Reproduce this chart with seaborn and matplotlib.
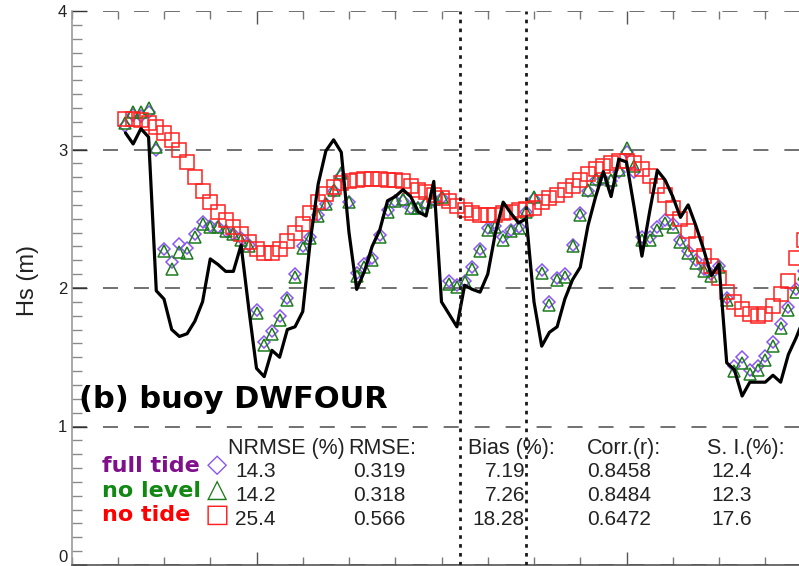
import numpy as np
import pandas as pd
import matplotlib
matplotlib.use("Agg")
import matplotlib.pyplot as plt
from matplotlib.ticker import MultipleLocator, FixedLocator
import seaborn as sns

# ---- data: hourly significant wave height at buoy DWFOUR ----
hours = list(range(7, 96))

observed = [
    3.12, 3.04, 3.15, 3.09, 1.98, 1.92, 1.70, 1.65, 1.67, 1.76,
    1.90, 2.21, 2.17, 2.12, 2.12,
    2.31, 1.85, 1.42, 1.36, 1.55,
    1.50, 1.70, 1.72, 1.83, 2.35,
    2.75, 2.99, 3.07, 2.98, 2.40,
    1.99, 2.12, 2.30, 2.42, 2.63,
    2.66, 2.71, 2.66, 2.55, 2.52,
    2.77, 1.90, 1.81, 1.72, 2.02,
    1.99, 1.97, 2.10, 2.40, 2.62,
    2.54, 2.47, 2.50, 1.90, 1.58,
    1.68, 1.72, 1.92, 2.06, 2.15,
    2.45, 2.66, 2.84, 2.66, 2.93,
    2.91, 2.58, 2.23, 2.55, 2.85,
    2.78, 2.66, 2.51, 2.60, 2.45,
    2.28, 2.09, 2.17, 1.46, 1.41,
    1.22, 1.32, 1.32, 1.32, 1.37,
    1.32, 1.52, 1.64, 1.78,
]

full_tide = [
    3.17, 3.25, 3.24, 3.27, 3.00, 2.28, 2.19, 2.32, 2.29, 2.39,
    2.48, 2.45, 2.44, 2.41, 2.39,
    2.36, 2.31, 1.84, 1.61, 1.69,
    1.80, 1.93, 2.10, 2.30, 2.37,
    2.53, 2.61, 2.70, 2.81, 2.62,
    2.11, 2.17, 2.22, 2.38, 2.56,
    2.63, 2.63, 2.58, 2.58, 2.61,
    2.63, 2.65, 2.05, 2.02, 2.05,
    2.15, 2.28, 2.43, 2.45, 2.37,
    2.42, 2.44, 2.55, 2.64, 2.13,
    1.90, 2.07, 2.10, 2.31, 2.54,
    2.70, 2.78, 2.79, 2.77, 2.84,
    2.98, 2.84, 2.37, 2.37, 2.44,
    2.49, 2.46, 2.35, 2.27, 2.20,
    2.14, 2.10, 2.16, 1.93, 1.44,
    1.50, 1.41, 1.44, 1.51, 1.61,
    1.74, 1.86, 1.99, 2.12,
]

no_level = [
    3.19, 3.27, 3.27, 3.30, 3.02, 2.27, 2.14, 2.26, 2.25, 2.37,
    2.46, 2.44, 2.44, 2.41, 2.39,
    2.35, 2.30, 1.82, 1.59, 1.67,
    1.77, 1.91, 2.08, 2.29, 2.36,
    2.52, 2.61, 2.71, 2.83, 2.62,
    2.09, 2.15, 2.20, 2.37, 2.55,
    2.63, 2.64, 2.58, 2.58, 2.62,
    2.64, 2.66, 2.03, 2.01, 2.04,
    2.14, 2.27, 2.42, 2.44, 2.35,
    2.41, 2.43, 2.55, 2.66, 2.11,
    1.88, 2.06, 2.08, 2.30, 2.53,
    2.71, 2.79, 2.80, 2.78, 2.85,
    3.01, 2.88, 2.35, 2.35, 2.42,
    2.47, 2.44, 2.33, 2.25, 2.18,
    2.12, 2.09, 2.15, 1.91, 1.40,
    1.46, 1.38, 1.41, 1.48, 1.58,
    1.71, 1.84, 1.97, 2.10,
]

no_tide = [
    3.22, 3.22, 3.21, 3.19, 3.16, 3.12, 3.07, 3.00, 2.91, 2.80,
    2.70, 2.62, 2.55, 2.49, 2.44,
    2.39, 2.33, 2.28, 2.25, 2.25,
    2.28, 2.34, 2.40, 2.46, 2.54,
    2.62, 2.68, 2.73, 2.76, 2.77,
    2.78, 2.79, 2.79, 2.79, 2.78,
    2.78, 2.77, 2.74, 2.71, 2.69,
    2.67, 2.65, 2.63, 2.59, 2.56,
    2.54, 2.53, 2.53, 2.53, 2.54,
    2.55, 2.56, 2.57, 2.58, 2.62,
    2.65, 2.67, 2.71, 2.74, 2.78,
    2.82, 2.86, 2.88, 2.90, 2.92,
    2.92, 2.90, 2.86, 2.81, 2.74,
    2.67, 2.58, 2.50, 2.41, 2.32,
    2.23, 2.16, 2.07, 1.97, 1.90,
    1.85, 1.81, 1.80, 1.81, 1.87,
    1.96, 2.05, 2.22, 2.35,
]

# analysis window boundaries (hours)
window_bounds = [50.4, 58.9]

# statistics table
run_names = ["full tide", "no level", "no tide"]
run_symbols = ["\u25C7", "\u25B3", "\u25A1"]
stat_headers = ["NRMSE (%)", "RMSE:", "Bias (%):", "Corr.(r):", "S. I.(%):"]
nrmse = ["14.3", "14.2", "25.4"]
rmse = ["0.319", "0.318", "0.566"]
bias = ["7.19", "7.26", "18.28"]
corr = ["0.8458", "0.8484", "0.6472"]
scatter_index = ["12.4", "12.3", "17.6"]

for series in (observed, full_tide, no_level, no_tide):
    assert len(series) == len(hours)

df = pd.DataFrame({
    "hour": hours,
    "observed": observed,
    "full tide": full_tide,
    "no level": no_level,
    "no tide": no_tide,
})

# ---- styling ----
sns.set_theme(style="white")
plt.rcParams["font.family"] = ["Liberation Sans", "DejaVu Sans"]
plt.rcParams["lines.scale_dashes"] = False

W, H = 799, 566
fig = plt.figure(figsize=(W / 100, H / 100), dpi=100)
# plot area runs past the right edge of the canvas
ax = fig.add_axes([71.5 / W, 1 / H, 740 / W, 554 / H])


def fx(px):
    return px / W


def fy(py):
    return 1 - py / H


label_colors = ["#7f0f8a", "#118811", "#ff0000"]
marker_colors = {"full tide": "#8a55f0", "no level": "#1c7c1c", "no tide": "#ff2020"}

# horizontal dashed reference lines
ax.grid(axis="y", which="major", color="#4a4a4a", linewidth=1.1,
        linestyle=(0, (10.8, 11.5)), zorder=0)
ax.grid(axis="x", visible=False)
ax.set_axisbelow(True)

sns.lineplot(data=df, x="hour", y="full tide", ax=ax, marker="D", linestyle="",
             markersize=6.0, markerfacecolor="none",
             markeredgecolor=marker_colors["full tide"], markeredgewidth=1.1,
             zorder=3)
sns.lineplot(data=df, x="hour", y="no level", ax=ax, marker="^", linestyle="",
             markersize=8.6, markerfacecolor="none",
             markeredgecolor=marker_colors["no level"], markeredgewidth=1.1,
             zorder=4)
sns.lineplot(data=df, x="hour", y="no tide", ax=ax, marker="s", linestyle="",
             markersize=9.4, markerfacecolor="none",
             markeredgecolor=marker_colors["no tide"], markeredgewidth=1.1,
             zorder=5)
sns.lineplot(data=df, x="hour", y="observed", ax=ax, color="black",
             linewidth=2.3, zorder=6)

for xb in window_bounds:
    ax.axvline(xb, color="#1a1a1a", linewidth=2.0,
               linestyle=(0, (2.6, 3.8)), zorder=7)

ax.set_xlim(0, 96)
ax.set_ylim(0, 4)
ax.set_xlabel("")
ax.set_ylabel("")

ax.yaxis.set_major_locator(FixedLocator([0, 1, 2, 3, 4]))
ax.yaxis.set_minor_locator(MultipleLocator(0.1))
ax.xaxis.set_major_locator(FixedLocator([24, 72]))
ax.xaxis.set_minor_locator(MultipleLocator(6))
ax.set_yticklabels(["0", "1", "2", "3", "4"])

ax.tick_params(axis="y", which="major", direction="in", length=10.8, width=1.0,
               color="#333333", left=True, right=False, labelsize=12,
               labelcolor="#222222", pad=3)
ax.tick_params(axis="y", which="minor", direction="in", length=7.2, width=1.0,
               color="#8a8a8a", left=True, right=False)
ax.tick_params(axis="x", which="major", direction="in", length=9.5, width=1.0,
               color="#555555", top=True, bottom=True, labelbottom=False)
ax.tick_params(axis="x", which="minor", direction="in", length=6.0, width=1.0,
               color="#777777", top=True, bottom=True)
ax.get_yticklabels()[0].set_verticalalignment("bottom")

for side in ("top", "right"):
    ax.spines[side].set_visible(False)
ax.spines["left"].set_color("#9a9a9a")
ax.spines["left"].set_linewidth(1.2)
ax.spines["bottom"].set_color("#555555")
ax.spines["bottom"].set_linewidth(1.2)

fig.text(fx(28), fy(281), "Hs (m)", rotation=90, ha="center", va="center",
         fontsize=17, color="#222222")

fig.text(fx(79), fy(408), "(b) buoy DWFOUR", fontsize=22, fontweight="bold",
         family=["DejaVu Sans"], color="black", va="baseline", ha="left")

# statistics table
header_x = [228, 348, 468, 587, 707]
for hx, htxt in zip(header_x, stat_headers):
    fig.text(fx(hx), fy(454), htxt, fontsize=15.5, color="#222222",
             va="baseline", ha="left")

row_base = [477, 501, 525]
label_base = [472, 497, 521]
symbol_center = [465, 490, 515]
for i in range(3):
    fig.text(fx(102), fy(label_base[i]), run_names[i], fontsize=16,
             fontweight="bold", family=["DejaVu Sans"], color=label_colors[i],
             va="baseline", ha="left")
    fig.text(fx(217), fy(symbol_center[i]), run_symbols[i], fontsize=19,
             family=["DejaVu Sans"], color=marker_colors[run_names[i]],
             va="center", ha="center")
    fig.text(fx(235), fy(row_base[i]), nrmse[i], fontsize=15, color="#222222",
             va="baseline", ha="left")
    fig.text(fx(353), fy(row_base[i]), rmse[i], fontsize=15, color="#222222",
             va="baseline", ha="left")
    fig.text(fx(525), fy(row_base[i]), bias[i], fontsize=15, color="#222222",
             va="baseline", ha="right")
    fig.text(fx(587), fy(row_base[i]), corr[i], fontsize=15, color="#222222",
             va="baseline", ha="left")
    fig.text(fx(711), fy(row_base[i]), scatter_index[i], fontsize=15,
             color="#222222", va="baseline", ha="left")

fig.savefig("out.png", dpi=100)
